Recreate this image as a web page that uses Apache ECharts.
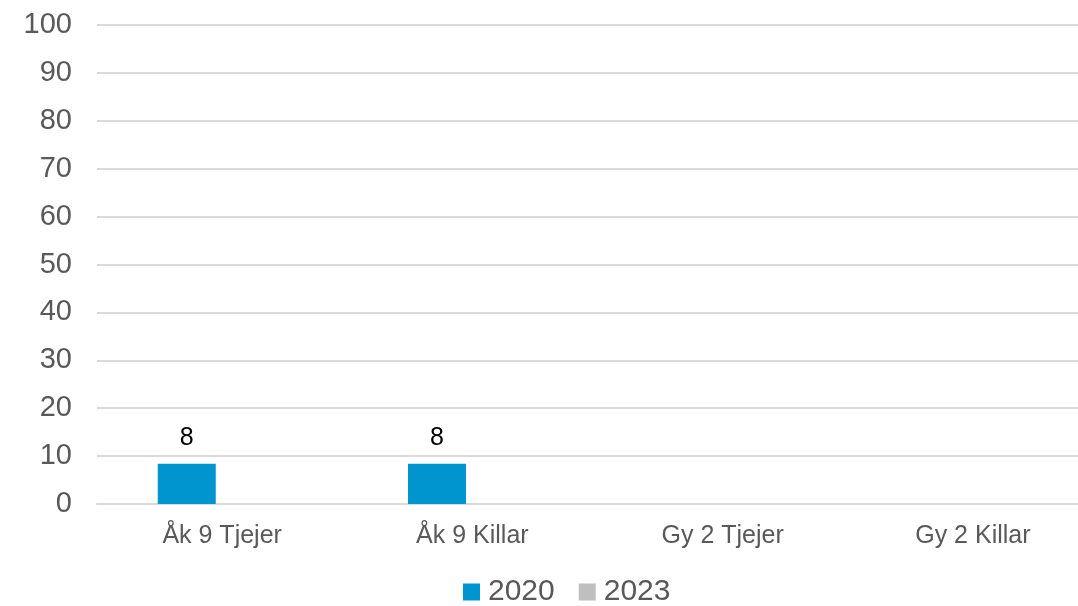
<!DOCTYPE html>
<html>
<head>
<meta charset="utf-8">
<script src="https://cdn.jsdelivr.net/npm/echarts@6/dist/echarts.min.js"></script>
<style>
  html, body { margin: 0; padding: 0; background: #ffffff; }
  #chart { width: 1078px; height: 606px; }
</style>
</head>
<body>
<div id="chart"></div>
<script>
// kategorier och värden
var categories = ["Åk 9 Tjejer", "Åk 9 Killar", "Gy 2 Tjejer", "Gy 2 Killar"];
var values2020 = [8.4, 8.4, null, null];
var values2023 = [null, null, null, null];
var seriesNames = ["2020", "2023"];

var font = "'Liberation Sans', Arial, sans-serif";
var myChart = echarts.init(document.getElementById("chart"));

myChart.setOption({
  animation: false,
  textStyle: { fontFamily: font },
  grid: {
    left: 97,
    right: -20, // diagrammet är beskuret till höger
    top: 25,
    bottom: 102,
    outerBoundsMode: "none"
  },
  legend: {
    data: seriesNames,
    left: 463,
    top: 577,
    padding: 0,
    itemWidth: 17,
    itemHeight: 17,
    itemGap: 24,
    icon: "rect",
    textStyle: { fontSize: 30, color: "#595959", fontFamily: font, padding: [0, 0, 0, 3] }
  },
  xAxis: {
    type: "category",
    data: categories,
    axisLine: { lineStyle: { color: "#d9d9d9", width: 2 } },
    axisTick: { show: false },
    axisLabel: { fontSize: 25, color: "#595959", margin: 20, fontFamily: font }
  },
  yAxis: {
    type: "value",
    min: 0,
    max: 100,
    interval: 10,
    axisLine: { show: false },
    axisTick: { show: false },
    axisLabel: { fontSize: 29, color: "#595959", margin: 25, fontFamily: font },
    splitLine: { lineStyle: { color: "#d9d9d9", width: 2 } }
  },
  series: [
    {
      name: seriesNames[0],
      type: "bar",
      data: values2020,
      barWidth: 58,
      barGap: "22%",
      itemStyle: { color: "#0095cf" },
      label: {
        show: true,
        position: "top",
        distance: 13,
        fontSize: 25,
        color: "#000000",
        fontFamily: font,
        formatter: function (p) { return Math.round(p.value); }
      }
    },
    {
      name: seriesNames[1],
      type: "bar",
      data: values2023,
      barWidth: 58,
      itemStyle: { color: "#bfbfbf" }
    }
  ]
});
</script>
</body>
</html>
